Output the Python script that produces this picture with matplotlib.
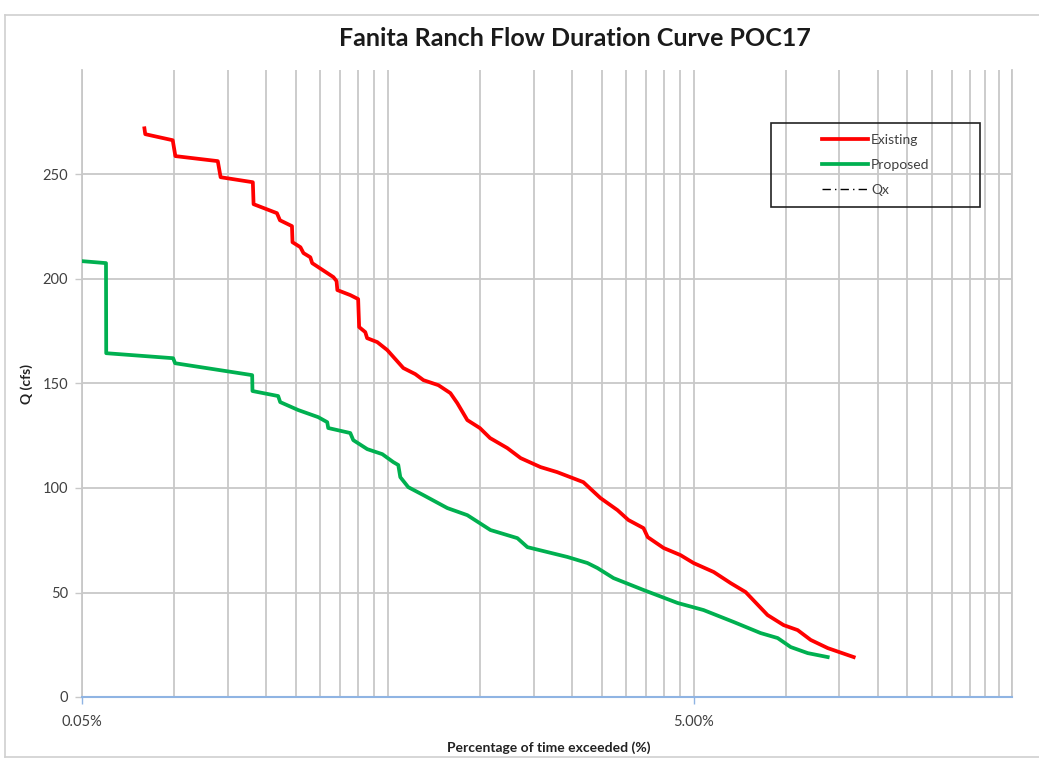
import numpy as np
import matplotlib
matplotlib.use("Agg")
import matplotlib.pyplot as plt
from matplotlib.lines import Line2D
from matplotlib.patches import Rectangle
from matplotlib.ticker import FixedLocator, NullFormatter

plt.rcParams['font.family'] = ['Lato', 'DejaVu Sans']

# Existing condition flow duration curve (percent of time exceeded, Q in cfs)
existing_pct = [0.080, 0.0805, 0.099, 0.101, 0.139, 0.142, 0.181, 0.182, 0.217, 0.222,
                0.243, 0.244, 0.259, 0.265, 0.279, 0.283, 0.332, 0.340, 0.342, 0.377,
                0.400, 0.403, 0.422, 0.428, 0.462, 0.498, 0.562, 0.615, 0.654, 0.732,
                0.801, 0.844, 0.910, 1.00, 1.08, 1.23, 1.36, 1.58, 1.79, 2.18,
                2.48, 2.82, 3.06, 3.43, 3.54, 3.99, 4.53, 5.00, 5.82, 6.61,
                7.40, 8.73, 9.85, 10.95, 12.08, 13.73, 16.70]
existing_q = [272.1, 269.3, 266.4, 258.8, 256.4, 248.7, 246.3, 235.8, 231.5, 228.1,
              225.3, 217.6, 215.2, 212.4, 210.4, 207.6, 200.9, 199.0, 194.7, 192.3,
              190.4, 177.0, 174.6, 171.7, 169.8, 166.0, 157.4, 154.5, 151.6, 149.2,
              145.4, 140.6, 132.5, 128.7, 123.9, 119.1, 114.3, 110.0, 107.6, 102.8,
              95.2, 89.4, 84.7, 80.8, 76.5, 71.3, 67.9, 64.1, 59.8, 54.5,
              50.2, 39.2, 34.4, 32.0, 27.3, 23.4, 19.1]

# Proposed condition flow duration curve
proposed_pct = [0.0504, 0.0599, 0.0600, 0.0993, 0.1008, 0.1801, 0.1805, 0.219, 0.2224, 0.2547,
                0.2961, 0.3169, 0.3193, 0.377, 0.3856, 0.4284, 0.4797, 0.5211, 0.5411, 0.5494,
                0.5834, 0.6536, 0.7829, 0.9103, 1.083, 1.327, 1.431, 1.934, 2.249, 2.425,
                2.736, 3.43, 4.432, 5.39, 6.76, 8.28, 9.42, 10.39, 11.81, 13.73]
proposed_q = [208.5, 207.6, 164.5, 162.1, 159.7, 154.0, 146.4, 144.0, 141.1, 137.3,
              133.9, 131.5, 128.7, 126.3, 122.9, 118.6, 116.2, 112.4, 111.0, 105.2,
              100.4, 96.6, 90.4, 87.0, 79.9, 76.0, 71.7, 67.0, 64.1, 61.7,
              56.9, 51.2, 45.0, 41.6, 35.9, 30.6, 28.2, 23.9, 21.0, 19.1]

x_labels = ["0.05%", "5.00%"]
x_major = [0.05, 5.0]
y_ticks = [0, 50, 100, 150, 200, 250]

grid_col = "#c8c8c8"
axis_blue = "#8fb4e3"
text_col = "#404040"

fig = plt.figure(figsize=(10.39, 7.59), dpi=100)
ax = fig.add_axes([82/1039, 1-697/759, (1012-82)/1039, (697-70)/759])

ax.plot(existing_pct, existing_q, color="#ff0000", lw=2.7, solid_joinstyle="round", zorder=3)
ax.plot(proposed_pct, proposed_q, color="#00b050", lw=2.7, solid_joinstyle="round", zorder=3)

ax.set_xscale("log")
ax.set_xlim(0.05, 55)
ax.set_ylim(0, 300)

minor = list(np.arange(0.1, 0.51, 0.05)) + list(np.arange(1.0, 4.6, 0.5)) + list(np.arange(10, 56, 5))
ax.xaxis.set_major_locator(FixedLocator(x_major))
ax.set_xticklabels(x_labels)
ax.xaxis.set_minor_locator(FixedLocator(minor))
ax.xaxis.set_minor_formatter(NullFormatter())
ax.set_yticks(y_ticks)

ax.grid(True, which="both", axis="x", color=grid_col, lw=1.3)
ax.grid(True, which="major", axis="y", color=grid_col, lw=1.3)
ax.set_axisbelow(True)

ax.tick_params(axis="x", which="major", length=5, width=1, color=axis_blue,
               labelsize=10.5, labelcolor=text_col, pad=8)
ax.tick_params(axis="x", which="minor", length=0)
ax.tick_params(axis="y", length=5, width=1, color=grid_col, labelsize=10.5,
               labelcolor=text_col, pad=5)

ax.spines["top"].set_visible(False)
ax.spines["right"].set_color(grid_col)
ax.spines["right"].set_linewidth(1.3)
ax.spines["left"].set_color(grid_col)
ax.spines["left"].set_linewidth(1.3)
ax.spines["bottom"].set_color(axis_blue)
ax.spines["bottom"].set_linewidth(1.5)
ax.spines["bottom"].set_zorder(4)

ax.set_xlabel("Percentage of time exceeded (%)", fontsize=10, fontweight="bold", color="#222222")
ax.xaxis.set_label_coords(0.502, -0.07)
ax.set_ylabel("Q (cfs)", fontsize=10, fontweight="bold", color="#222222")
ax.yaxis.set_label_coords(-0.053, 0.5)

fig.text(575/1039, 1-39/759, "Fanita Ranch Flow Duration Curve POC17", ha="center", va="center",
         fontsize=18, fontweight="bold", color="#1a1a1a")

# legend
handles = [Line2D([], [], color="#ff0000", lw=2.7),
           Line2D([], [], color="#00b050", lw=2.7),
           Line2D([], [], color="black", lw=1, linestyle=(0, (6, 3, 1, 3)))]
leg = ax.legend(handles, ["Existing", "Proposed", "Qx"], loc="center",
                bbox_to_anchor=(876/1039, 1-165/759), bbox_transform=fig.transFigure,
                frameon=False, fontsize=10, handlelength=3.3, handletextpad=0.2,
                labelspacing=0.95)
for t in leg.get_texts():
    t.set_color(text_col)
fig.patches.append(Rectangle((771/1039, 1-207/759), 209/1039, 84/759, transform=fig.transFigure,
                             fill=False, ec="#222222", lw=1.2))

# chart area border (left, top, bottom only)
bx0, by0, by1 = 5/1039, 1-757/759, 1-15/759
for xs, ys in [([bx0, bx0], [by0, by1]), ([bx0, 1.0], [by1, by1]), ([bx0, 1.0], [by0, by0])]:
    fig.add_artist(Line2D(xs, ys, transform=fig.transFigure, color="#d0d0d0", lw=1.2))

fig.savefig("out.png", dpi=100)
